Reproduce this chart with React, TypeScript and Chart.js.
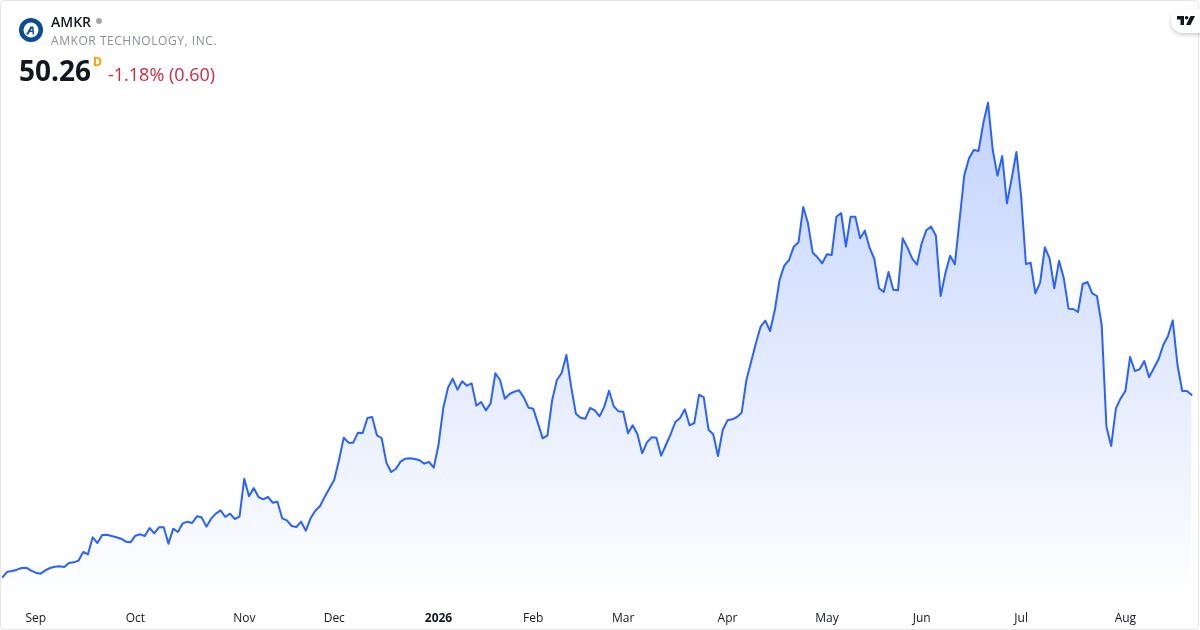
import React, { useEffect, useRef } from "react";
import { Chart, registerables } from "chart.js";

Chart.register(...registerables);

const FONT = '"Open Sans", "Noto Sans", sans-serif';

const priceSep = [22.95, 23.75, 23.85, 24.05, 24.3, 24.35, 23.9, 23.6, 23.45, 23.95, 24.3, 24.5, 24.55, 24.45, 25.05, 25.15, 25.4, 26.7, 26.35, 28.9, 28.05, 29.25, 29.3, 29.1, 28.9, 28.7, 28.25, 28.15];
const priceOct = [29.15, 29.35, 29.1, 30.3, 29.5, 30.4, 30.4, 27.95, 30.2, 29.7, 31.0, 31.25, 31.05, 32.05, 31.9, 30.5, 31.7, 32.45, 32.95, 31.95, 32.45, 31.65, 32.0];
const priceNov = [37.7, 35.05, 36.3, 34.95, 34.6, 34.95, 34.1, 34.25, 31.75, 31.45, 30.6, 30.45, 31.25, 29.9, 31.75, 32.9, 33.6, 35.0, 36.25];
const priceDec = [37.55, 40.5, 43.85, 43.1, 43.1, 44.6, 44.55, 46.8, 46.95, 44.2, 43.8, 40.1, 38.7, 39.15, 40.25, 40.7, 40.75, 40.65, 40.45, 39.95, 40.2, 39.35];
const priceJan = [42.75, 48.25, 51.35, 52.7, 51.05, 52.3, 51.65, 52.0, 48.65, 49.2, 47.95, 49.0, 53.5, 52.5, 49.7, 50.4, 50.75, 50.95, 49.9, 48.35];
const priceFeb = [48.2, 46.0, 43.75, 44.2, 49.5, 52.5, 53.55, 56.25, 51.5, 47.45, 46.85, 46.7, 48.3, 47.95, 47.05, 48.5, 50.9, 48.55, 47.8];
const priceMar = [47.75, 44.5, 45.7, 44.35, 41.5, 43.15, 43.9, 43.85, 41.15, 42.75, 44.35, 46.2, 46.8, 48.1, 45.7, 46.05, 50.3, 49.9, 45.05, 44.35, 41.1, 45.0];
const priceApr = [46.45, 46.6, 46.95, 47.6, 52.5, 55.25, 58.0, 60.5, 61.4, 59.85, 63.0, 67.5, 69.65, 70.5, 72.5, 73.15, 78.45, 76.0, 71.6, 70.9, 70.0];
const priceMay = [71.35, 71.25, 77.0, 77.55, 72.5, 77.0, 77.0, 73.75, 74.9, 72.35, 70.65, 66.25, 65.7, 68.7, 66.05, 65.95, 73.75, 72.35, 70.7, 69.8];
const priceJun = [73.0, 75.0, 75.5, 74.15, 65.1, 68.5, 71.15, 69.85, 76.5, 83.25, 85.75, 87.0, 86.85, 91.0, 94.1, 87.0, 83.15, 86.1, 79.0, 82.75, 86.7];
const priceJul = [80.0, 69.9, 70.1, 65.5, 67.1, 72.4, 70.75, 66.25, 70.4, 67.75, 63.2, 63.15, 62.7, 66.9, 67.2, 65.5, 65.1, 60.75, 45.5, 42.6, 48.25, 49.75];
const priceAug = [50.85, 55.95, 53.85, 54.1, 55.35, 52.9, 54.25, 55.6, 57.75, 59.1, 61.45, 54.75, 50.85, 50.85, 50.26];

const prices = [...priceSep, ...priceOct, ...priceNov, ...priceDec, ...priceJan, ...priceFeb, ...priceMar, ...priceApr, ...priceMay, ...priceJun, ...priceJul, ...priceAug];

const tickLabels = ["Sep", "Oct", "Nov", "Dec", "2026", "Feb", "Mar", "Apr", "May", "Jun", "Jul", "Aug"];
const tickIndexes = [7, 28, 51, 70, 92, 112, 131, 153, 174, 194, 215, 237];
const boldTick = "2026";

const ticker = "AMKR";
const company = "AMKOR TECHNOLOGY, INC.";
const lastPrice = "50.26";
const interval = "D";
const change = "-1.18% (0.60)";

const labelAt = (i: number): string | null => {
  const k = tickIndexes.indexOf(i);
  return k >= 0 ? tickLabels[k] : null;
};

export default function App() {
  const ref = useRef<HTMLCanvasElement>(null);

  useEffect(() => {
    document.body.style.margin = "0";
    const chart = new Chart(ref.current!, {
      type: "line",
      data: {
        labels: prices.map((_, i) => String(i)),
        datasets: [
          {
            data: prices,
            borderColor: "#2962ff",
            borderWidth: 2,
            borderJoinStyle: "round",
            borderCapStyle: "round",
            pointRadius: 0,
            tension: 0,
            fill: "start",
            backgroundColor: (c: any) => {
              const g = c.chart.ctx.createLinearGradient(0, 100, 0, 600);
              g.addColorStop(0, "rgba(41,98,255,0.28)");
              g.addColorStop(1, "rgba(41,98,255,0)");
              return g;
            },
          },
        ],
      },
      options: {
        responsive: false,
        animation: false,
        devicePixelRatio: 1,
        layout: { padding: { left: 2.67, right: 8.3, top: 0, bottom: 0 } },
        plugins: { legend: { display: false }, tooltip: { enabled: false } },
        scales: {
          x: {
            type: "category",
            offset: false,
            border: { display: false },
            grid: { display: false, drawTicks: false },
            afterFit: (s: any) => {
              s.height = 30;
            },
            ticks: {
              autoSkip: false,
              maxRotation: 0,
              minRotation: 0,
              padding: 11,
              color: "#131722",
              font: (c: any) => ({
                family: FONT,
                size: 12,
                weight: c.tick && c.tick.label === boldTick ? "bold" : "normal",
              }),
              callback: (_v: any, i: number) => labelAt(i),
            },
          },
          y: {
            display: false,
            min: 19.5,
            max: 109.5,
            grid: { display: false },
          },
        },
      },
    } as any);
    return () => chart.destroy();
  }, []);

  return (
    <div style={{ position: "fixed", left: 0, top: 0, width: 1200, height: 630, background: "#fff", overflow: "hidden", fontFamily: FONT }}>
      <canvas ref={ref} width={1200} height={630} style={{ position: "absolute", left: 0, top: 0, display: "block" }} />
      <div style={{ position: "absolute", left: 0, top: 0, width: 1197, height: 628, border: "1px solid #e6e6e6", borderRadius: 4, pointerEvents: "none" }} />
      <svg width="24" height="24" viewBox="0 0 24 24" style={{ position: "absolute", left: 19, top: 18 }}>
        <circle cx="12" cy="12" r="12" fill="#0b4c94" />
        <circle cx="12" cy="12" r="7.5" fill="#fff" />
        <path d="M7 16.5 L11.5 8.5 H14.5 L15 16.5 H13.6 L13.4 14 H10.8 L9.2 16.5 Z M11.6 12.8 H13.3 L13.1 10 Z" fill="#0b4c94" />
      </svg>
      <div style={{ position: "absolute", left: 51, top: 12, fontSize: 14, fontWeight: 600, color: "#131722", lineHeight: "19px" }}>{ticker}</div>
      <div style={{ position: "absolute", left: 96, top: 18, width: 6, height: 6, borderRadius: 3, background: "#a3a6af" }} />
      <div style={{ position: "absolute", left: 51, top: 32, fontSize: 12, color: "#8a8e98", lineHeight: "17px", letterSpacing: 0.55 }}>{company}</div>
      <div style={{ position: "absolute", left: 19, top: 51, fontSize: 28, fontWeight: 700, color: "#131722", lineHeight: "38px" }}>{lastPrice}</div>
      <div style={{ position: "absolute", left: 93, top: 54, fontSize: 12, fontWeight: 700, color: "#ff9800", lineHeight: "16px" }}>{interval}</div>
      <div style={{ position: "absolute", left: 108, top: 61, fontSize: 18, color: "#d0293d", lineHeight: "26px" }}>{change}</div>
      <div style={{ position: "absolute", left: 1171, top: 9, width: 40, height: 24, borderRadius: 12, background: "#fff", boxShadow: "0 2px 4px rgba(0,0,0,0.2)" }} />
      <svg width="18" height="10" viewBox="0 0 18 10" style={{ position: "absolute", left: 1177, top: 16 }}>
        <path d="M0 0 H7 V9 H3.5 V3.5 H0 Z" fill="#131722" />
        <circle cx="9.6" cy="1.8" r="1.8" fill="#131722" />
        <path d="M13.5 0 H18 L13.5 9 H9 Z" fill="#131722" />
      </svg>
    </div>
  );
}
